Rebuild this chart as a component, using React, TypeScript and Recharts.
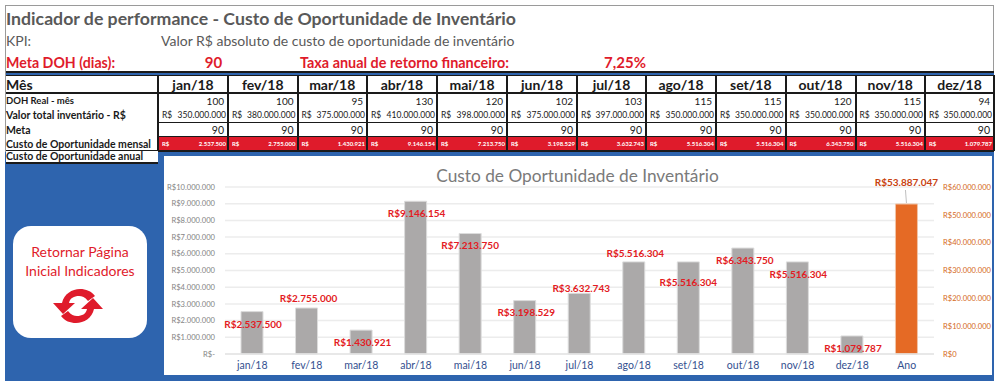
import React from 'react';
import { Bar, BarChart, CartesianGrid, LabelList, XAxis, YAxis } from 'recharts';

const months = ['jan/18', 'fev/18', 'mar/18', 'abr/18', 'mai/18', 'jun/18', 'jul/18', 'ago/18', 'set/18', 'out/18', 'nov/18', 'dez/18'];
const dohReal = [100, 100, 95, 130, 120, 102, 103, 115, 115, 120, 115, 94];
const inventario = [350000000, 380000000, 375000000, 410000000, 398000000, 375000000, 397000000, 350000000, 350000000, 350000000, 350000000, 350000000];
const meta = [90, 90, 90, 90, 90, 90, 90, 90, 90, 90, 90, 90];
const custoMensal = [2537500, 2755000, 1430921, 9146154, 7213750, 3198529, 3632743, 5516304, 5516304, 6343750, 5516304, 1079787];
const custoAnual = 53887047;
const leftTicks = [0, 1000000, 2000000, 3000000, 4000000, 5000000, 6000000, 7000000, 8000000, 9000000, 10000000];
const rightTicks = [0, 10000000, 20000000, 30000000, 40000000, 50000000, 60000000];

// the data labels were dragged by hand in the original, so each has its own nudge
const labelNudge = [[1, 12], [2, -10], [1.5, 12], [1, 12], [0, 11.5], [1.5, 11.5], [2, -5], [1.5, -9], [0, 20], [2, 12], [1, 12], [1, 12]];

const chartData = [
  ...months.map((m, i) => ({ name: m, custo: custoMensal[i], ano: null as number | null })),
  { name: 'Ano', custo: null as number | null, ano: custoAnual },
];

const FONT = 'Lato, "Open Sans", sans-serif';
const RED = '#DF1B2B';
const BLUE = '#2E64AE';
const INK = '#1a1a1a';
const colX = [158, 228, 297.5, 367, 437, 507, 577, 646, 716, 785.5, 855.5, 925, 994];

const milhar = (v: number) => String(v).replace(/\B(?=(\d{3})+(?!\d))/g, '.');

const box = (left: number, top: number, width: number, height: number, extra: React.CSSProperties = {}): React.CSSProperties => ({
  position: 'absolute',
  left,
  top,
  width,
  height,
  ...extra,
});

function Txt({ x, y, w, h, size, bold, color, align, children }: any) {
  return (
    <div
      style={box(x, y, w, h, {
        display: 'flex',
        alignItems: 'center',
        justifyContent: align === 'right' ? 'flex-end' : align === 'center' ? 'center' : 'flex-start',
        fontSize: size,
        fontWeight: bold ? 700 : 400,
        color: color || INK,
        whiteSpace: 'nowrap',
      })}
    >
      {children}
    </div>
  );
}

function MonthLabel({ x, y, width, value, index }: any) {
  if (value == null) return null;
  const [dx, dy] = labelNudge[index];
  return (
    <text x={x + width / 2 + dx} y={y + dy} textAnchor="middle" dominantBaseline="central" fontFamily={FONT} fontSize={10} fontWeight={700} fill="#E31B23">
      {'R$' + milhar(value)}
    </text>
  );
}

function AnoLabel({ x, y, width, value }: any) {
  if (value == null) return null;
  const cx = x + width / 2;
  return (
    <g>
      <line x1={cx - 1} y1={y - 14} x2={cx} y2={y - 1} stroke="#bfbfbf" strokeWidth={1} />
      <text x={cx} y={y - 22} textAnchor="middle" dominantBaseline="central" fontFamily={FONT} fontSize={10} fontWeight={700} fill="#C8410F">
        {'R$' + milhar(value)}
      </text>
    </g>
  );
}

function ReloadIcon() {
  return (
    <svg style={box(53, 288, 50, 36)} viewBox="0 0 50 36">
      <path d="M9 15 C11 6 19 1 27 1 C33 1 38 3 42 8 L35 13 C32 9 29 8 26 8 C21 8 17 10 16 15 L22 15 L10 26 L0 15 Z" fill={RED} />
      <path d="M41 21 C39 30 31 35 23 35 C17 35 12 33 8 28 L15 23 C18 27 21 28 24 28 C29 28 33 26 34 21 L28 21 L40 10 L50 21 Z" fill={RED} />
    </svg>
  );
}

function Custo() {
  return (
    <BarChart
      width={828}
      height={219}
      data={chartData}
      margin={{ top: 31, right: 0, bottom: 0, left: 0 }}
      barSize={22}
      style={{ position: 'absolute', left: 164, top: 156 }}
    >
      <text x={413.5} y={19} textAnchor="middle" dominantBaseline="central" fontFamily={FONT} fontSize={17.3} fill="#7a7a7a">
        Custo de Oportunidade de Inventário
      </text>
      <CartesianGrid yAxisId="mes" vertical={false} stroke="#ececec" strokeWidth={1.5} />
      <XAxis
        dataKey="name"
        height={21}
        interval={0}
        axisLine={{ stroke: '#e4e4e4', strokeWidth: 1.5 }}
        tickLine={false}
        tick={{ fill: '#34508F', fontSize: 10.5, fontFamily: FONT }}
      />
      <YAxis
        yAxisId="mes"
        width={61}
        domain={[0, 10000000]}
        ticks={leftTicks}
        interval={0}
        axisLine={false}
        tickLine={false}
        tickSize={0}
        tickMargin={10}
        tickFormatter={(v: number) => (v === 0 ? 'R$-' : 'R$' + milhar(v))}
        tick={{ fill: '#858585', fontSize: 7.6, fontFamily: FONT }}
      />
      <YAxis
        yAxisId="ano"
        orientation="right"
        width={58}
        domain={[0, 60000000]}
        ticks={rightTicks}
        interval={0}
        axisLine={false}
        tickLine={false}
        tickSize={0}
        tickMargin={9}
        tickFormatter={(v: number) => 'R$' + milhar(v)}
        tick={{ fill: '#D56A25', fontSize: 7.6, fontFamily: FONT }}
      />
      <Bar yAxisId="mes" dataKey="custo" stackId="c" fill="#ABA9A9" stroke="#dcdcdc" isAnimationActive={false}>
        <LabelList dataKey="custo" content={<MonthLabel />} />
      </Bar>
      <Bar yAxisId="ano" dataKey="ano" stackId="c" fill="#E56A25" stroke="#f0c4a8" isAnimationActive={false}>
        <LabelList dataKey="ano" content={<AnoLabel />} />
      </Bar>
    </BarChart>
  );
}

export default function App() {
  return (
    <div style={{ position: 'absolute', left: 0, top: 0, width: 1001, height: 386, background: '#fff', fontFamily: FONT, overflow: 'hidden' }}>
      {/* outer frame */}
      <div style={box(5, 5, 989, 376, { border: '1px solid #9a9a9a', boxSizing: 'border-box' })} />

      {/* header lines */}
      <Txt x={6} y={7} w={700} h={22} size={17.7} bold color="#595959">Indicador de performance - Custo de Oportunidade de Inventário</Txt>
      <Txt x={6} y={31} w={100} h={18} size={14} color="#595959">KPI:</Txt>
      <Txt x={161} y={31} w={500} h={18} size={14} color="#595959">Valor R$ absoluto de custo de oportunidade de inventário</Txt>
      <Txt x={6} y={52} w={150} h={20} size={14.2} bold color={RED}>Meta DOH (dias):</Txt>
      <Txt x={190} y={52} w={47} h={20} size={15} bold color={RED} align="center">90</Txt>
      <Txt x={300} y={52} w={240} h={20} size={14.4} bold color={RED}>Taxa anual de retorno financeiro:</Txt>
      <Txt x={590} y={52} w={70} h={20} size={15} bold color={RED} align="center">7,25%</Txt>

      {/* table rows */}
      <div style={box(6, 71, 988, 2, { background: INK })} />
      <div style={box(6, 73, 988, 2, { background: BLUE })} />
      <div style={box(6, 75, 988, 1, { background: INK })} />
      <div style={box(158, 137, 836, 14, { background: RED })} />
      <div style={box(6, 92, 988, 2, { background: INK })} />
      <div style={box(158, 122, 836, 1, { background: INK })} />
      <div style={box(158, 136, 836, 1, { background: INK })} />
      <div style={box(6, 150, 988, 2, { background: INK })} />
      {colX.map((x) => (
        <div key={x} style={box(x - 1, 75, 2, 76, { background: INK })} />
      ))}

      <Txt x={6} y={76} w={150} h={16} size={14} bold>Mês</Txt>
      <Txt x={6} y={94} w={150} h={13} size={9.5} bold>DOH Real - mês</Txt>
      <Txt x={6} y={108} w={150} h={14} size={10.5} bold>Valor total inventário - R$</Txt>
      <Txt x={6} y={123} w={150} h={13} size={10.5} bold>Meta</Txt>
      <Txt x={6} y={137} w={150} h={13} size={10.5} bold>Custo de Oportunidade mensal</Txt>

      {months.map((m, i) => {
        const left = colX[i] + 1;
        const w = colX[i + 1] - colX[i] - 2;
        return (
          <React.Fragment key={m}>
            <Txt x={left} y={76} w={w} h={16} size={14} bold align="center">{m}</Txt>
            <Txt x={left} y={94} w={w - 3} h={13} size={10} align="right">{dohReal[i]}</Txt>
            <Txt x={left + 3} y={108} w={20} h={14} size={8.5}>R$</Txt>
            <Txt x={left} y={108} w={w - 1} h={14} size={8.5} align="right">{milhar(inventario[i])}</Txt>
            <Txt x={left} y={123} w={w - 3} h={13} size={10.5} align="right">{meta[i]}</Txt>
            <Txt x={left + 3} y={137} w={20} h={13} size={6} bold color="#fff">R$</Txt>
            <Txt x={left} y={137} w={w - 1} h={13} size={6} bold color="#fff" align="right">{milhar(custoMensal[i])}</Txt>
          </React.Fragment>
        );
      })}

      {/* blue panel */}
      <div style={box(5, 152, 989, 229, { background: BLUE })} />
      <div style={box(6, 151, 152, 13, { background: '#fff', borderBottom: `2px solid ${INK}`, boxSizing: 'border-box' })} />
      <Txt x={6} y={150} w={150} h={12} size={10.5} bold>Custo de Oportunidade anual</Txt>
      <div style={box(164, 156, 828, 219, { background: '#fff' })} />

      {/* return button */}
      <div style={box(13, 226, 134, 112, { background: '#fff', borderRadius: 18 })} />
      <Txt x={13} y={241} w={134} h={20} size={14} color={RED} align="center">Retornar Página</Txt>
      <Txt x={13} y={260} w={134} h={20} size={14} color={RED} align="center">Inicial Indicadores</Txt>
      <ReloadIcon />

      <Custo />
    </div>
  );
}
